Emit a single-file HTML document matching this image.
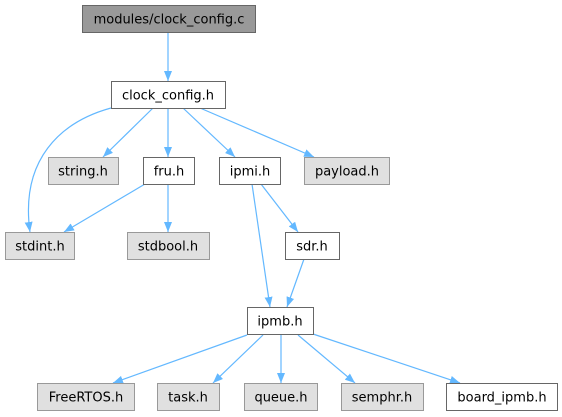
<!DOCTYPE html>
<html><head><meta charset="utf-8"><style>
html,body{margin:0;padding:0;background:#fff;}
svg{display:block;}
text{font-family:"DejaVu Sans","Liberation Sans",sans-serif;font-size:13px;fill:#000;}
.w{fill:#fff;stroke:#666;stroke-width:1;}
.g{fill:#e0e0e0;stroke:#999;stroke-width:1;}
.d{fill:#999;stroke:#666;stroke-width:1;}
.e{fill:none;stroke:#63b8ff;stroke-width:1.2;}
</style></head><body>
<svg width="562" height="417" viewBox="0 0 562 417" xmlns="http://www.w3.org/2000/svg">
<defs><marker id="a" markerWidth="10" markerHeight="8" refX="10" refY="4" orient="auto" markerUnits="userSpaceOnUse"><path d="M0,0 L10,4 L0,8 Z" fill="#63b8ff"/></marker></defs>
<path class="e" marker-end="url(#a)" d="M168,33 L168,81"/>
<path class="e" marker-end="url(#a)" d="M111,108 C60,122 20,160 30,232"/>
<path class="e" marker-end="url(#a)" d="M153,108 L103,157"/>
<path class="e" marker-end="url(#a)" d="M168,108 L168,157"/>
<path class="e" marker-end="url(#a)" d="M183,108 L235,157"/>
<path class="e" marker-end="url(#a)" d="M200,108 L314,157"/>
<path class="e" marker-end="url(#a)" d="M145,184 L64,232"/>
<path class="e" marker-end="url(#a)" d="M168,184 L168,232"/>
<path class="e" marker-end="url(#a)" d="M252,184 L270,307"/>
<path class="e" marker-end="url(#a)" d="M261,184 L298,232"/>
<path class="e" marker-end="url(#a)" d="M304,259 L287,307"/>
<path class="e" marker-end="url(#a)" d="M247,335 L113,383"/>
<path class="e" marker-end="url(#a)" d="M263,335 L213,383"/>
<path class="e" marker-end="url(#a)" d="M281,335 L281,383"/>
<path class="e" marker-end="url(#a)" d="M298,335 L355,383"/>
<path class="e" marker-end="url(#a)" d="M313,334 L460,383"/>
<rect class="d" x="82.5" y="5.5" width="173" height="27"/><text x="169" y="23.5" text-anchor="middle">modules/clock_config.c</text>
<rect class="w" x="111.5" y="81.5" width="114" height="27"/><text x="168" y="99.5" text-anchor="middle">clock_config.h</text>
<rect class="g" x="48.5" y="157.5" width="70" height="27"/><text x="83" y="175.5" text-anchor="middle">string.h</text>
<rect class="w" x="143.5" y="157.5" width="51" height="27"/><text x="169" y="175.5" text-anchor="middle">fru.h</text>
<rect class="w" x="219.5" y="157.5" width="61" height="27"/><text x="250" y="175.5" text-anchor="middle">ipmi.h</text>
<rect class="g" x="304.5" y="157.5" width="85" height="27"/><text x="347" y="175.5" text-anchor="middle">payload.h</text>
<rect class="g" x="5.5" y="232.5" width="69" height="27"/><text x="40" y="250.5" text-anchor="middle">stdint.h</text>
<rect class="g" x="127.5" y="232.5" width="82" height="27"/><text x="168" y="250.5" text-anchor="middle">stdbool.h</text>
<rect class="w" x="285.5" y="232.5" width="54" height="27"/><text x="312" y="250.5" text-anchor="middle">sdr.h</text>
<rect class="w" x="247.5" y="307.5" width="66" height="27"/><text x="280" y="325.5" text-anchor="middle">ipmb.h</text>
<rect class="g" x="37.5" y="383.5" width="97" height="27"/><text x="86" y="401.5" text-anchor="middle">FreeRTOS.h</text>
<rect class="g" x="157.5" y="383.5" width="62" height="27"/><text x="188" y="401.5" text-anchor="middle">task.h</text>
<rect class="g" x="244.5" y="383.5" width="73" height="27"/><text x="281" y="401.5" text-anchor="middle">queue.h</text>
<rect class="g" x="341.5" y="383.5" width="82" height="27"/><text x="382" y="401.5" text-anchor="middle">semphr.h</text>
<rect class="w" x="446.5" y="383.5" width="111" height="27"/><text x="502" y="401.5" text-anchor="middle">board_ipmb.h</text>
</svg>
</body></html>
